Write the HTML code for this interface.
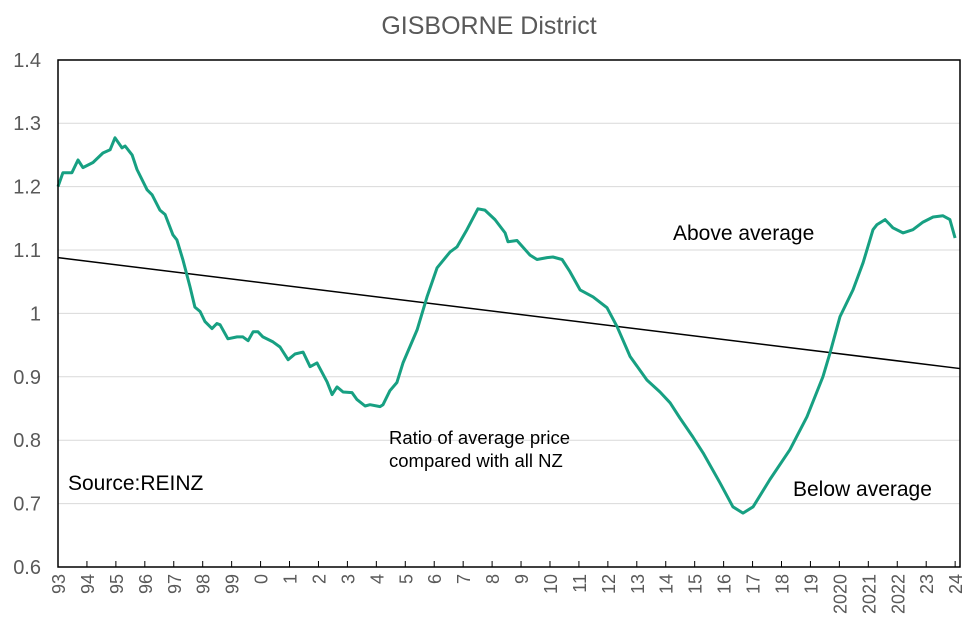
<!DOCTYPE html>
<html><head><meta charset="utf-8"><style>
html,body{margin:0;padding:0;background:#fff;}
svg{display:block;font-family:"Liberation Sans",Arial,sans-serif;}
</style></head><body>
<svg id="chart" width="976" height="637" viewBox="0 0 976 637" xmlns="http://www.w3.org/2000/svg">
<text x="489" y="34" text-anchor="middle" font-size="25" fill="#595959">GISBORNE District</text>
<g id="grid"></g>
<g id="yticks"></g>
<g id="xticks"></g>
<g id="series"></g>
<rect x="58" y="60" width="902" height="507" fill="none" stroke="#000" stroke-width="1.5"/>
<text x="673" y="240" font-size="21" fill="#000">Above average</text>
<text x="389" y="444" font-size="18.5" fill="#000">Ratio of average price</text>
<text x="389" y="467" font-size="18.5" fill="#000">compared with all NZ</text>
<text x="68" y="490" font-size="21" fill="#000">Source:REINZ</text>
<text x="793" y="496" font-size="21" fill="#000">Below average</text>
</svg>
<script>
const yTicks = [0.6,0.7,0.8,0.9,1,1.1,1.2,1.3,1.4];
const yTickLabels = ["0.6","0.7","0.8","0.9","1","1.1","1.2","1.3","1.4"];
const xTickLabels = ["93","94","95","96","97","98","99","0","1","2","3","4","5","6","7","8","9","10","11","12","13","14","15","16","17","18","19","2020","2021","2022","23","24"];
const years = [1993.0,1993.17,1993.48,1993.69,1993.86,1994.21,1994.55,1994.80,1994.97,1995.21,1995.32,1995.56,1995.73,1996.08,1996.25,1996.52,1996.70,1996.97,1997.11,1997.32,1997.56,1997.73,1997.91,1998.08,1998.32,1998.49,1998.60,1998.87,1999.19,1999.39,1999.57,1999.74,1999.91,2000.08,2000.43,2000.67,2000.95,2001.19,2001.47,2001.71,2001.95,2002.30,2002.47,2002.64,2002.85,2003.16,2003.33,2003.61,2003.78,2004.13,2004.23,2004.47,2004.71,2004.92,2005.41,2005.75,2006.10,2006.55,2006.79,2007.13,2007.51,2007.75,2008.10,2008.45,2008.55,2008.86,2009.31,2009.55,2009.90,2010.10,2010.42,2010.69,2011.04,2011.49,2011.97,2012.32,2012.77,2013.35,2013.80,2014.15,2014.49,2014.94,2015.29,2015.87,2016.32,2016.67,2017.02,2017.60,2018.29,2018.88,2019.43,2019.68,2020.02,2020.47,2020.82,2021.16,2021.30,2021.58,2021.85,2022.20,2022.54,2022.89,2023.24,2023.58,2023.82,2024.00];
const ratio = [1.200,1.222,1.222,1.242,1.230,1.238,1.253,1.258,1.277,1.261,1.264,1.250,1.227,1.195,1.187,1.163,1.156,1.124,1.116,1.084,1.042,1.010,1.003,0.987,0.976,0.984,0.982,0.960,0.963,0.963,0.957,0.971,0.971,0.963,0.955,0.947,0.927,0.936,0.939,0.916,0.922,0.892,0.872,0.884,0.876,0.875,0.864,0.854,0.856,0.853,0.856,0.878,0.891,0.922,0.974,1.026,1.072,1.097,1.105,1.132,1.165,1.163,1.148,1.127,1.113,1.115,1.092,1.085,1.088,1.089,1.085,1.066,1.037,1.026,1.009,0.979,0.932,0.895,0.876,0.859,0.835,0.805,0.780,0.733,0.695,0.685,0.695,0.738,0.785,0.837,0.900,0.938,0.995,1.037,1.080,1.132,1.140,1.148,1.135,1.127,1.132,1.144,1.152,1.154,1.148,1.119];
const trendYears = [1993.0, 2024.17];
const trendValues = [1.088, 0.913];

const NS = "http://www.w3.org/2000/svg";
const X0 = 58, XW = 28.94, Y0 = 567, YH = 634;
function xScale(t){ return X0 + (t - 1993) * XW; }
function yScale(v){ return Y0 - (v - 0.6) * YH; }
function mk(tag, attrs, parent){
  const e = document.createElementNS(NS, tag);
  for (const k in attrs) e.setAttribute(k, attrs[k]);
  parent.appendChild(e);
  return e;
}
const grid = document.getElementById('grid');
const yt = document.getElementById('yticks');
yTicks.forEach((v,i)=>{
  const y = yScale(v);
  const gl = mk('line',{x1:58,x2:960,y1:y,y2:y,stroke:'#d9d9d9','stroke-width':1},grid);
  
  
  const t = mk('text',{x:41,y:y+7,'text-anchor':'end','font-size':20,fill:'#595959'},yt);
  t.textContent = yTickLabels[i];
  
  
});
const xt = document.getElementById('xticks');
xTickLabels.forEach((lab,i)=>{
  const x = xScale(1993 + i);
  const tk = mk('line',{x1:x,x2:x,y1:567,y2:561,stroke:'#000','stroke-width':1},xt);
  
  
  const t = mk('text',{'text-anchor':'end','font-size':18,fill:'#595959',transform:`translate(${x+7},574) rotate(-90)`},xt);
  t.textContent = lab;
  
  
});
const s = document.getElementById('series');
const tr = mk('line',{x1:xScale(trendYears[0]),y1:yScale(trendValues[0]),x2:xScale(trendYears[1]),y2:yScale(trendValues[1]),stroke:'#000','stroke-width':1.5},s);


const pts = years.map((t,i)=>xScale(t).toFixed(1)+','+yScale(ratio[i]).toFixed(1)).join(' ');
const pl = mk('polyline',{points:pts,fill:'none',stroke:'#17a082','stroke-width':3,'stroke-linejoin':'round'},s);


</script>
</body></html>
